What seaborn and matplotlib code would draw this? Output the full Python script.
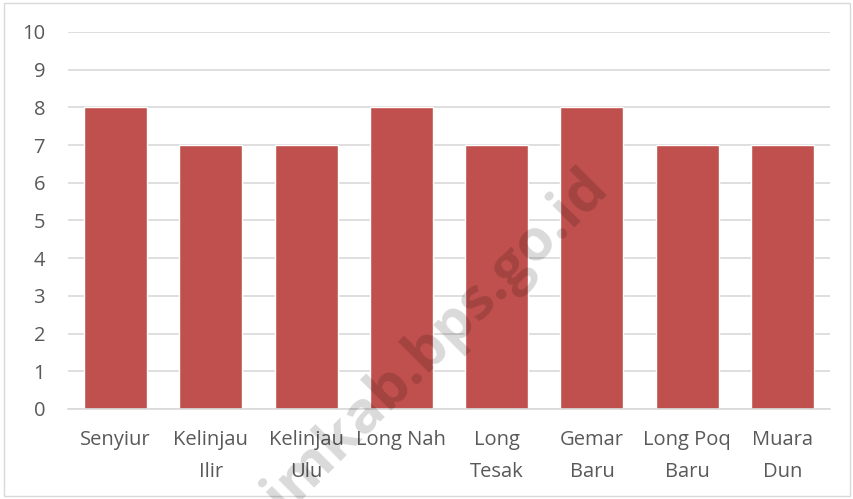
import matplotlib
matplotlib.use("Agg")
import matplotlib.pyplot as plt
import seaborn as sns
import pandas as pd
from matplotlib.patches import Rectangle

categories = ["Senyiur", "Kelinjau\nIlir", "Kelinjau\nUlu", "Long Nah", "Long\nTesak",
              "Gemar\nBaru", "Long Poq\nBaru", "Muara\nDun"]
values = [8, 7, 7, 8, 7, 8, 7, 7]
yticks = list(range(0, 11))

sns.set_theme(style="white")
plt.rcParams['font.family'] = ['Open Sans', 'DejaVu Sans']

df = pd.DataFrame({"cat": categories, "val": values})
fig = plt.figure(figsize=(8.54, 4.99), dpi=100)
ax = fig.add_axes([0.0796, 0.1804, 0.8924, 0.7556])
sns.barplot(data=df, x="cat", y="val", color="#C0504D", saturation=1, width=0.66, ax=ax, zorder=2)

ax.set_ylim(0, 10)
ax.set_yticks(yticks)
ax.set_xlim(-0.5, len(categories) - 0.5)
ax.yaxis.grid(True, color="#D9D9D9", linewidth=1.2, zorder=0)
ax.set_axisbelow(True)
for s in ["top", "right", "left"]:
    ax.spines[s].set_visible(False)
ax.spines["bottom"].set_color("#D9D9D9")
ax.spines["bottom"].set_linewidth(1.2)
ax.set_xlabel("")
ax.set_ylabel("")
ax.tick_params(axis="both", length=0, labelsize=14.5, colors="#595959")
ax.tick_params(axis="x", pad=15)
ax.tick_params(axis="y", pad=16.5)
for lbl in ax.get_xticklabels():
    lbl.set_linespacing(1.8)

fig.patches.append(Rectangle((4/854, 3/499), 846/854, 493/499, transform=fig.transFigure,
                             fill=False, edgecolor="#D9D9D9", linewidth=1))

fig.text(388/854, 1 - 388/499, "kutaimkab.bps.go.id", rotation=45, ha="center", va="center",
         fontsize=42, fontweight="bold", color="black", alpha=0.15, zorder=10)

fig.savefig("out.png", dpi=100)
